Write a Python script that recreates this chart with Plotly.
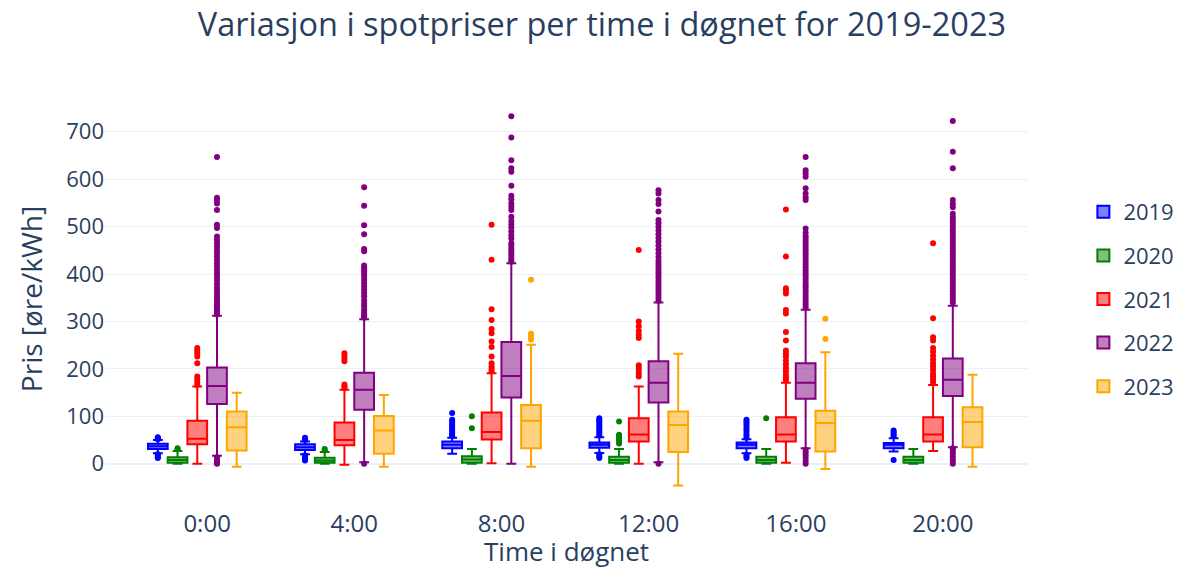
import numpy as np
import plotly.graph_objects as go

hours = ["0:00", "4:00", "8:00", "12:00", "16:00", "20:00"]
years = ["2019", "2020", "2021", "2022", "2023"]
colors = ["blue", "green", "red", "purple", "orange"]

# ---- 2019 ----
q1_2019 = [31, 29, 33, 34, 33, 33]
med_2019 = [37, 35, 40, 40, 40, 40]
q3_2019 = [42, 41, 47, 45, 45, 44]
lo_2019 = [22, 20, 21, 23, 22, 26]
hi_2019 = [50, 47, 55, 56, 52, 54]
out_2019 = [
    [52, 54, 56, 20, 17, 14, 12],
    [50, 53, 55, 18, 14, 10, 7],
    [58, 62, 66, 70, 74, 78, 82, 86, 90, 93, 107],
    [60, 64, 68, 72, 76, 80, 84, 88, 92, 96, 20, 16, 12],
    [55, 60, 65, 70, 75, 80, 85, 89, 93, 19, 15, 12],
    [58, 62, 66, 70, 8],
]

# ---- 2020 ----
q1_2020 = [2, 2, 2, 2, 2, 2]
med_2020 = [8, 7, 9, 8, 8, 8]
q3_2020 = [14, 13, 16, 15, 15, 15]
lo_2020 = [0, 0, 0, 0, 0, 0]
hi_2020 = [27, 25, 31, 31, 31, 31]
out_2020 = [
    [30, 33],
    [28, 31],
    [75, 100],
    [43, 48, 53, 57, 61, 89],
    [96],
    [],
]

# ---- 2021 ----
q1_2021 = [41, 39, 51, 47, 47, 47]
med_2021 = [53, 50, 67, 62, 62, 62]
q3_2021 = [91, 87, 108, 96, 98, 98]
lo_2021 = [0, -2, 1, 0, 2, 27]
hi_2021 = [163, 156, 191, 163, 171, 166]
out_2021 = [
    [166, 172, 178, 184, 212, 226, 233, 239, 244],
    [160, 163, 167, 216, 222, 228, 233],
    [195, 200, 205, 212, 226, 246, 258, 275, 284, 303, 326, 430, 504],
    [184, 190, 196, 202, 208, 265, 272, 280, 290, 300, 451],
    [176, 182, 188, 195, 202, 210, 218, 226, 232, 239, 260, 278, 317, 324,
     359, 365, 370, 437, 536],
    [172, 178, 184, 190, 198, 205, 212, 220, 228, 236, 244, 260, 267, 307, 465],
]

# ---- 2022 ----
q1_2022 = [126, 114, 140, 129, 137, 143]
med_2022 = [164, 156, 185, 171, 171, 177]
q3_2022 = [203, 192, 257, 216, 212, 222]
lo_2022 = [17, 3, 0, 3, 33, 35]
hi_2022 = [312, 305, 423, 340, 325, 333]
out_2022 = [
    [315, 318, 322, 327, 332, 337, 342, 348, 354, 360, 366, 373, 380, 388, 395,
     402, 409, 416, 423, 430, 437, 444, 451, 458, 465, 472, 479, 497, 504, 535,
     549, 556, 561, 647, 14, 10, 6, 3, 1, 0],
    [308, 311, 315, 320, 325, 332, 338, 345, 353, 360, 367, 374, 381, 388, 395,
     400, 405, 409, 414, 418, 448, 453, 484, 503, 544, 583, 0],
    [426, 430, 435, 440, 445, 450, 455, 460, 465, 475, 482, 490, 498, 505, 512,
     521, 535, 542, 549, 558, 565, 586, 616, 623, 640, 688, 733],
    [344, 350, 356, 362, 368, 374, 380, 386, 392, 398, 404, 410, 416, 422, 428,
     436, 444, 452, 460, 468, 476, 484, 492, 500, 507, 514, 532, 548, 556, 570,
     577, 0],
    [330, 336, 342, 348, 354, 360, 366, 372, 378, 384, 390, 396, 402, 408, 414,
     420, 426, 432, 438, 444, 450, 456, 462, 468, 474, 480, 487, 496, 556, 562,
     570, 581, 605, 612, 619, 647, 29, 24, 18, 12, 6, 0],
    [340, 346, 352, 358, 364, 370, 376, 382, 388, 394, 400, 406, 412, 418, 424,
     430, 436, 442, 448, 454, 460, 466, 472, 478, 484, 490, 496, 502, 508, 514,
     520, 527, 541, 548, 556, 623, 658, 723, 33, 28, 22, 16, 10, 5, 0],
]

# ---- 2023 ----
q1_2023 = [28, 21, 33, 25, 26, 35]
med_2023 = [77, 70, 91, 82, 86, 88]
q3_2023 = [110, 101, 124, 110, 112, 119]
lo_2023 = [-6, -6, -6, -46, -11, -6]
hi_2023 = [150, 145, 251, 232, 235, 188]
out_2023 = [
    [],
    [],
    [262, 268, 274, 388],
    [],
    [263, 306],
    [],
]

stats = [
    (q1_2019, med_2019, q3_2019, lo_2019, hi_2019, out_2019),
    (q1_2020, med_2020, q3_2020, lo_2020, hi_2020, out_2020),
    (q1_2021, med_2021, q3_2021, lo_2021, hi_2021, out_2021),
    (q1_2022, med_2022, q3_2022, lo_2022, hi_2022, out_2022),
    (q1_2023, med_2023, q3_2023, lo_2023, hi_2023, out_2023),
]

slot = 0.134  # width of one box slot (6 slots per hour group)
cat_idx = np.arange(len(hours))

fig = go.Figure()
for k, (year, color, (q1, med, q3, lo, hi, out)) in enumerate(zip(years, colors, stats)):
    # sample per box: whisker ends (inside the fences) plus outliers
    samples = [[l, h] + o for l, h, o in zip(lo, hi, out)]
    fig.add_trace(go.Box(
        name=year,
        legendgroup=year,
        x=(cat_idx + (k - 2.5) * slot).tolist(),
        y=samples,
        q1=q1, median=med, q3=q3,
        lowerfence=lo, upperfence=hi,
        width=slot,
        boxpoints="outliers",
        marker=dict(color=color, size=6),
        line=dict(color=color, width=2),
    ))

fig.update_layout(
    template="plotly_white",
    width=1178, height=572,
    boxmode="overlay",
    margin=dict(l=105, r=150, t=91, b=65, autoexpand=False),
    title=dict(
        text="Variasjon i spotpriser per time i døgnet for 2019-2023",
        x=0.511, xanchor="center", y=1 - 25 / 572, yanchor="middle",
        font=dict(size=32.5),
    ),
    legend=dict(
        x=1.06, xanchor="left", y=0.5, yanchor="middle",
        font=dict(size=22),
        tracegroupgap=12,
    ),
    xaxis=dict(
        tickvals=cat_idx.tolist(), ticktext=hours,
        range=[-0.694, 5.578],
        showgrid=False, zeroline=False,
        tickfont=dict(size=24),
        automargin=False,
    ),
    yaxis=dict(
        title=dict(text="Pris [øre/kWh]", font=dict(size=28)),
        range=[-91.1, 786],
        dtick=100,
        tickfont=dict(size=22),
        automargin=False,
    ),
    annotations=[dict(
        text="Time i døgnet",
        xref="paper", yref="paper", x=0.5, y=-0.1058,
        xanchor="center", yanchor="middle", showarrow=False,
        font=dict(size=26, color="#2a3f5f"),
    )],
)

fig.write_html("out.html")
